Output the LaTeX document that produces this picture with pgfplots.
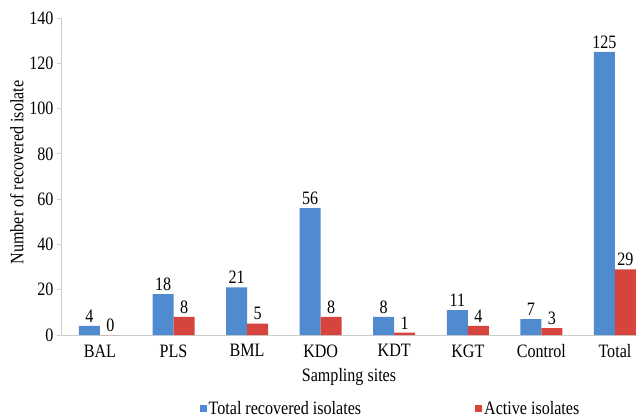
\documentclass[border=0pt]{standalone}
\usepackage{pgfplots}
\pgfplotsset{compat=1.18}
\usepackage{fontspec}
\setmainfont{Liberation Serif}[FakeStretch=0.85]
\definecolor{barblue}{RGB}{79,139,206}
\definecolor{barred}{RGB}{214,69,61}
\definecolor{axisgray}{RGB}{205,205,205}
\newcommand{\chartfont}{\fontsize{19}{22}\selectfont}

\begin{document}
\begin{tikzpicture}
\useasboundingbox (-61bp,-82bp) rectangle (576bp,335bp);
\begin{axis}[
  scale only axis, width=576bp, height=317bp,
  ymin=0, ymax=140, ytick={0,20,...,140},
  xmin=-0.53, xmax=7.3,
  xtick={0,...,7},
  xticklabels={BAL,PLS,BML,KDO,KDT,KGT,Control,Total},
  ybar=0pt, bar width=21bp,
  axis x line*=bottom, axis y line*=left,
  axis line style={axisgray, line width=0.9pt, -},
  xtick style={draw=none},
  ytick style={axisgray, line width=0.8pt},
  tick align=outside, major tick length=4bp,
  tick label style={font=\chartfont},
  /pgf/number format/assume math mode=true,
  xticklabel style={yshift=-2bp},
  xlabel={Sampling sites},
  ylabel={Number of recovered isolate},
  label style={font=\chartfont},
  xlabel style={yshift=-4bp},
  ylabel style={yshift=-1bp, xshift=4bp},
  nodes near coords,
  nodes near coords style={font=\chartfont, text=black},
  legend style={draw=none, at={(0.572,-0.232)}, anchor=center,
    font=\chartfont, legend columns=2,
    /tikz/every even column/.append style={column sep=112bp}},
  legend cell align=left,
]
\addplot[fill=barblue, draw=none,
  legend image code/.code={\fill[barblue] (0bp,-3.5bp) rectangle (7bp,3.5bp);}]
  coordinates {(0,4) (1,18) (2,21) (3,56) (4,8) (5,11) (6,7) (7,125)};
\addplot[fill=barred, draw=none,
  legend image code/.code={\fill[barred] (0bp,-3.5bp) rectangle (7bp,3.5bp);}]
  coordinates {(0,0) (1,8) (2,5) (3,8) (4,1) (5,4) (6,3) (7,29)};
\legend{Total recovered isolates, Active isolates}
\end{axis}
\end{tikzpicture}
\end{document}
